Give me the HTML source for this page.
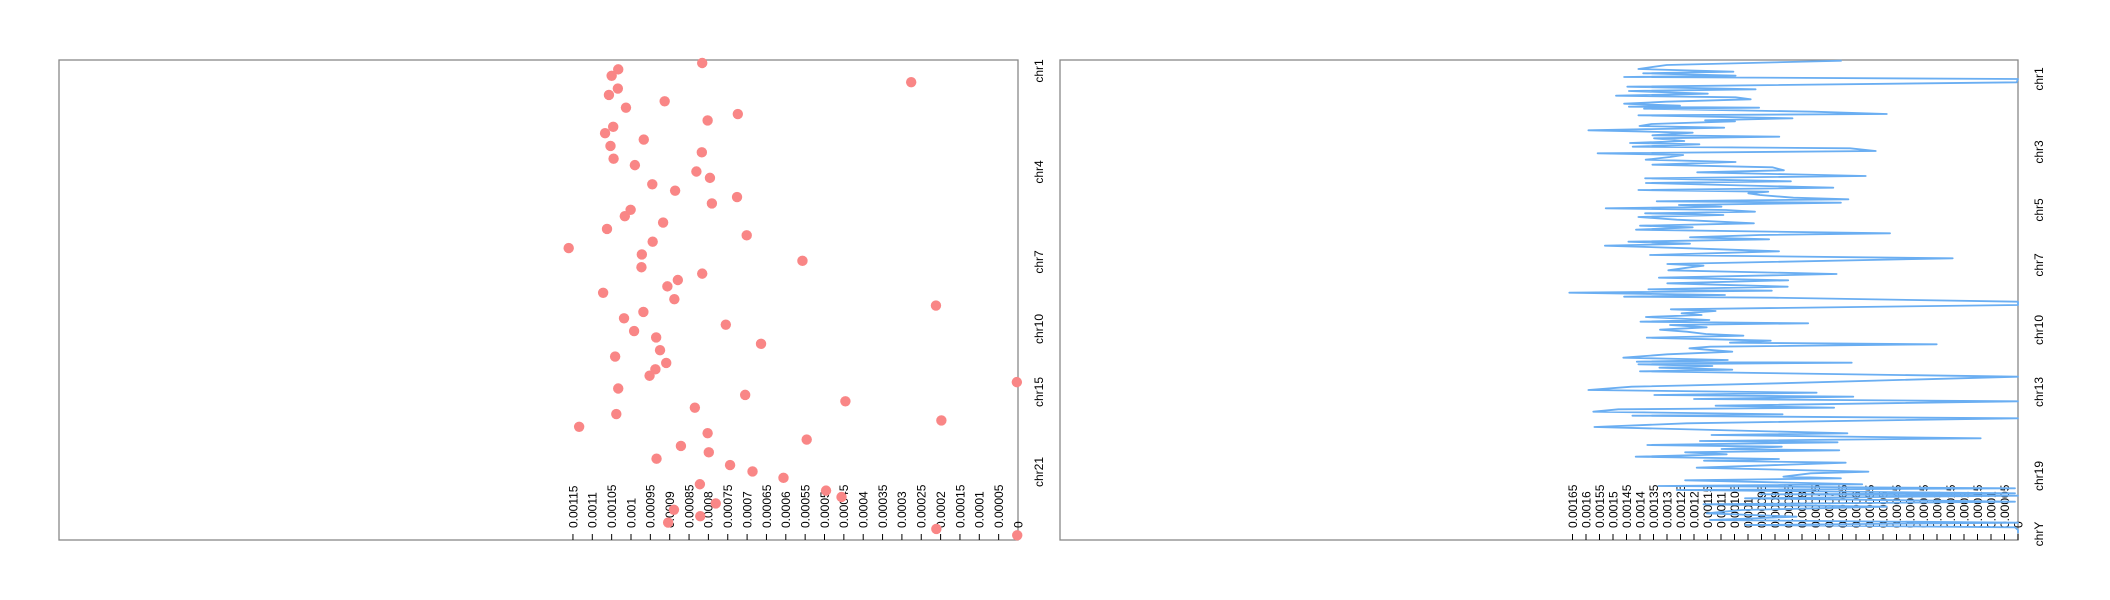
<!DOCTYPE html>
<html><head><meta charset="utf-8"><style>
html,body{margin:0;padding:0;background:#fff;}
svg{display:block;font-family:"Liberation Sans",Arial,sans-serif;}
</style></head><body>
<svg id="chart" width="2110" height="600" viewBox="0 0 2110 600" xmlns="http://www.w3.org/2000/svg">
<rect x="0" y="0" width="2110" height="600" fill="#fff"/>
<g id="left"></g>
<g id="right"></g>
</svg>
<script>
// Left panel: scatter values (×1e-4), evenly spaced along genome
const leftValues = [8.16,10.33,10.50,2.76,10.34,10.57,9.13,10.13,7.24,8.02,10.46,10.67,9.67,10.53,8.17,10.45,9.90,8.31,7.96,9.45,8.86,7.26,7.91,10.01,10.16,9.17,10.62,7.01,9.44,11.61,9.72,5.57,9.73,8.16,8.79,9.06,10.72,8.88,2.12,9.68,10.18,7.55,9.92,9.35,6.64,9.25,10.41,9.09,9.37,9.52,0.03,10.33,7.05,4.46,8.35,10.38,1.98,11.34,8.02,5.46,8.71,7.99,9.34,7.44,6.86,6.06,8.22,4.96,4.56,7.81,8.89,8.21,9.04,2.11,0.02];
const leftTicks = ["0","0.00005","0.0001","0.00015","0.0002","0.00025","0.0003","0.00035","0.0004","0.00045","0.0005","0.00055","0.0006","0.00065","0.0007","0.00075","0.0008","0.00085","0.0009","0.00095","0.001","0.00105","0.0011","0.00115"];
const leftChroms = ["chr1","chr4","chr7","chr10","chr15","chr21"];
const leftChromPos = [11,112,202,269,332,412];

// Right panel: line series, genome bin positions and values (×1e-4)
const rightPos = [2,15,27,35,40,47,51,57,67,80,88,93,101,107,112,118,125,131,137,140,143,146,155,162,166,175,181,184,192,198,203,211,218,226,230,235,243,249,253,260,265,273,280,285,291,299,306,314,322,331,337,348,355,364,369,383,390,395,400,405,413,418,424,428,435,440,445,450,455,460,465,471,479,490,497,502,509,520,525,532,538,545,551,557,565,574,585,595,612,617,622,631,642,653,661,670,680,688,692,698,705,710,713,725,735,748,753,760,765,771,780,785,790,795,802,809,815,822,827,833,842,848,853,860,865,875,883,893,900,905,908,913,918,923,929,934,950,970,980,990,998,1005,1010,1017,1024,1037,1043,1048,1055,1063,1067,1075,1090,1101,1120,1125,1135,1143,1147,1155,1160,1167,1171,1177,1183,1190,1197,1202,1208,1223,1235,1240,1250,1255,1261,1273,1278,1285,1290,1300,1303,1307,1315,1325,1333,1340,1350,1360,1370,1380,1388,1395,1402,1410,1420];
const rightValues = [6.53,13.01,14.06,10.54,13.88,10.46,14.59,0,0.05,14.47,9.72,14.41,11.49,14.89,10.46,9.90,13.04,14.59,12.52,14.41,9.59,13.85,7.58,4.86,14.06,8.35,11.59,10.48,13.57,14.02,10.88,15.91,12.05,13.54,8.84,13.48,12.36,14.37,11.80,14.27,6.22,5.27,15.57,12.40,12.89,13.79,10.46,13.54,9.10,8.67,11.88,5.64,13.81,8.41,13.78,6.84,14.06,9.25,9.99,9.56,8.32,6.28,13.38,6.56,12.56,10.98,15.27,10.81,9.74,13.81,10.91,14.06,12.64,9.78,14.00,12.05,14.15,4.74,9.56,12.15,9.22,14.43,12.15,15.30,12.15,8.85,13.63,2.42,12.99,11.65,12.15,12.95,6.72,13.30,8.51,12.99,8.53,13.69,9.12,16.62,10.85,14.59,9.06,0,0,12.86,11.20,12.46,11.72,13.78,11.43,13.98,7.77,12.89,11.53,13.26,12.27,11.56,10.17,13.75,9.16,10.67,3.01,11.41,12.17,10.58,12.99,14.62,10.75,14.12,6.16,14.06,11.32,13.28,10.58,14.00,0,8.88,14.31,15.91,7.46,13.47,6.10,12.00,0,11.20,6.81,14.80,15.73,8.72,14.28,0,12.27,15.69,6.32,11.35,1.38,11.78,6.68,13.73,8.75,10.98,6.62,12.33,10.79,14.16,8.85,11.63,6.38,11.90,5.54,7.68,8.69,6.56,12.33,5.77,13.32,0.11,12.64,0.11,9.56,0,10.11,0.11,11.65,4.86,10.23,11.53,8.20,11.41,0,10.11,0.11,0,0];
const rightTicks = ["0","0.00005","0.0001","0.00015","0.0002","0.00025","0.0003","0.00035","0.0004","0.00045","0.0005","0.00055","0.0006","0.00065","0.0007","0.00075","0.0008","0.00085","0.0009","0.00095","0.001","0.00105","0.0011","0.00115","0.0012","0.00125","0.0013","0.00135","0.0014","0.00145","0.0015","0.00155","0.0016","0.00165"];
const rightChroms = ["chr1","chr3","chr5","chr7","chr10","chr13","chr19","chrY"];
const rightChromPos = [57,276,450,615,810,996,1248,1422];

const NS = "http://www.w3.org/2000/svg";
function mk(tag, attrs, parent){ const e=document.createElementNS(NS,tag); for(const k in attrs) e.setAttribute(k,attrs[k]); parent.appendChild(e); return e; }

function drawPanel(g, x0, x1, pxPerUnit, ticks, chroms, chromPos, yDomain){
  const top=60, bottom=540;
  const xs = v => x1 - v*pxPerUnit;
  const ys = p => top + (p - yDomain[0])/(yDomain[1]-yDomain[0])*(bottom-top);
  const border = mk('rect',{x:x0,y:top,width:x1-x0,height:bottom-top,fill:'none',stroke:'#888','stroke-width':1.3},g);
  
  
  ticks.forEach((t,i)=>{
    const x = xs(parseFloat(t)*1e4);
    const tl = mk('line',{x1:x,x2:x,y1:bottom,y2:bottom-6,stroke:'#000','stroke-width':1},g);
    
    
    const tx = mk('text',{x:0,y:0,'font-size':12,fill:'#000','text-anchor':'start',transform:`translate(${x+4.3},${bottom-12}) rotate(-90)`},g);
    
    
    tx.textContent=t;
  });
  chroms.forEach((c,i)=>{
    const y = ys(chromPos[i]);
    const tx = mk('text',{x:0,y:0,'font-size':12,fill:'#000','text-anchor':'middle',transform:`translate(${x1+25},${y}) rotate(-90)`},g);
    
    
    tx.textContent=c;
  });
  return {xs,ys};
}

const L = drawPanel(document.getElementById('left'), 59, 1018, 38.7, leftTicks, leftChroms, leftChromPos, [0,480]);
const lg = document.getElementById('left');
leftValues.forEach((v,i)=>{
  const c = mk('circle',{cx:L.xs(v),cy:63+i*(472.3/(leftValues.length-1)),r:5.2,fill:'#f98686'},lg);
  
  
});

const R = drawPanel(document.getElementById('right'), 1060, 2018, 27, rightTicks, rightChroms, rightChromPos, [0,1440]);
const rg = document.getElementById('right');
const d = rightValues.map((v,i)=>(i?'L':'M')+R.xs(v).toFixed(1)+','+(R.ys(rightPos[i])).toFixed(1)).join(' ');
const path = mk('path',{d:d,fill:'none',stroke:'#6aaef2','stroke-width':1.8,'stroke-linejoin':'round'},rg);


</script>
</body></html>
